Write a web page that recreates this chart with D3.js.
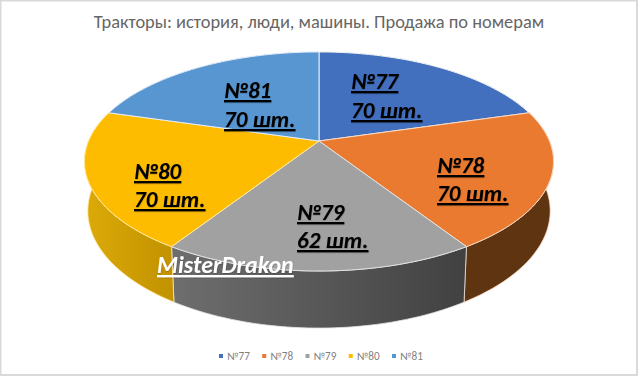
<!DOCTYPE html>
<html>
<head>
<meta charset="utf-8">
<title>Тракторы</title>
<script src="https://cdn.jsdelivr.net/npm/d3@7"></script>
<style>
  html, body { margin: 0; padding: 0; background: #fff; }
  svg { display: block; }
  text { font-family: Carlito, Lato, "Open Sans", "Noto Sans", sans-serif; }
  .title { fill: #666; font-size: 18.4px; }
  .legend-label { fill: #7f7f7f; font-size: 11.2px; }
  .slice-label { fill: #000; font-size: 23px; font-weight: bold; font-style: italic; text-decoration: underline; }
  .watermark { fill: #fff; font-size: 24px; font-weight: bold; font-style: italic; text-decoration: underline; }
</style>
</head>
<body>
<div id="chart"></div>
<script>
// ---- Data ----
const categories = ['№77', '№78', '№79', '№80', '№81'];
const values = [70, 70, 62, 70, 70];
const unit = 'шт.';
const chartTitle = 'Тракторы: история, люди, машины. Продажа по номерам';
const watermarkText = 'MisterDrakon';

// ---- Colours ----
const topColors = ['#4270bf', '#e97a30', '#a1a1a1', '#fdbc00', '#5896d2'];
const rimColors = ['#f4f4f4', '#fbd9bf', '#e2e2e2', '#ffe9a0', '#e4eef8'];
const sideStart = ['#29447a', '#5f3410', '#6e6e6e', '#dcaa08', '#2f5f8c'];
const sideEnd = ['#29447a', '#5f3410', '#414141', '#c29200', '#2f5f8c'];

const W = 638, H = 376;

// Tilted disc: homography fitted to the reference ellipse
const CX = 319, CY = 141, A = 230.4, B = 105.7, K = 0.187;
const DEPTH = 49, SHRINK = 0.014;

function project(angle, r, lower) {
  const x = Math.sin(angle) * r, y = -Math.cos(angle) * r;
  const w = 1 - K * y + (lower ? SHRINK : 0);
  return [CX + A * x / w, CY + (B * y + (lower ? DEPTH : 0)) / w];
}

function arcPoints(a0, a1, lower) {
  return d3.range(0, 61).map(i => project(a0 + (a1 - a0) * i / 60, 1, lower));
}

const svg = d3.select('#chart').append('svg').attr('width', W).attr('height', H);
const defs = svg.append('defs');
const line = d3.line();

// Background + thin grey frame
svg.append('rect').attr('x', 0.5).attr('y', 0.5).attr('width', W - 1.5).attr('height', H - 1.5)
  .attr('fill', '#fff').attr('stroke', '#d9d9d9').attr('stroke-width', 2);

svg.append('text').attr('class', 'title')
  .attr('x', 319).attr('y', 28).attr('text-anchor', 'middle').text(chartTitle);

const slices = d3.pie().sort(null)(values);

// ---- Side walls ----
const sides = svg.append('g');
slices.forEach((s, i) => {
  const up = arcPoints(s.startAngle, s.endAngle, false);
  const low = arcPoints(s.startAngle, s.endAngle, true);
  const xs = d3.extent(up, p => p[0]);
  const grad = defs.append('linearGradient').attr('id', 'side' + i)
    .attr('gradientUnits', 'userSpaceOnUse')
    .attr('x1', xs[0]).attr('x2', xs[1]).attr('y1', 0).attr('y2', 0);
  grad.append('stop').attr('offset', 0).attr('stop-color', sideStart[i]);
  grad.append('stop').attr('offset', 1).attr('stop-color', sideEnd[i]);
  sides.append('path')
    .attr('d', line(up.concat(low.reverse())) + 'Z')
    .attr('fill', `url(#side${i})`)
    .attr('stroke', rimColors[i]).attr('stroke-width', 0.8);
});

// ---- Top face ----
const tops = svg.append('g');
slices.forEach((s, i) => {
  const pts = [[CX, CY]].concat(arcPoints(s.startAngle, s.endAngle, false));
  tops.append('path')
    .attr('d', line(pts) + 'Z')
    .attr('fill', topColors[i])
    .attr('stroke', rimColors[i]).attr('stroke-width', 1).attr('stroke-linejoin', 'round');
});

// ---- Slice labels ----
const shadow = defs.append('filter').attr('id', 'soft').attr('x', '-10%').attr('y', '-20%')
  .attr('width', '120%').attr('height', '150%');
shadow.append('feDropShadow').attr('dx', 0.3).attr('dy', 0.5).attr('stdDeviation', 0.5)
  .attr('flood-color', '#000').attr('flood-opacity', 0.35);

const labelAt = [[351, 89, 118], [437, 173, 201], [297, 220, 248], [134, 179, 207], [224, 98, 127]];
const labels = svg.append('g').attr('filter', 'url(#soft)');
categories.forEach((c, i) => {
  labels.append('text').attr('class', 'slice-label')
    .attr('x', labelAt[i][0]).attr('y', labelAt[i][1]).text(c);
  labels.append('text').attr('class', 'slice-label')
    .attr('x', labelAt[i][0]).attr('y', labelAt[i][2]).text(values[i] + ' ' + unit);
});

svg.append('text').attr('class', 'watermark').attr('filter', 'url(#soft)')
  .attr('x', 157).attr('y', 273).text(watermarkText);

// ---- Legend ----
const legendX = d3.scalePoint().domain(categories).range([219, 392]);
const legend = svg.append('g');
categories.forEach((c, i) => {
  const g = legend.append('g').attr('transform', `translate(${legendX(c)},356)`);
  g.append('rect').attr('x', 0).attr('y', -2).attr('width', 4).attr('height', 4).attr('fill', topColors[i]);
  g.append('text').attr('class', 'legend-label').attr('x', 8).attr('y', 4).text(c);
});
</script>
</body>
</html>
